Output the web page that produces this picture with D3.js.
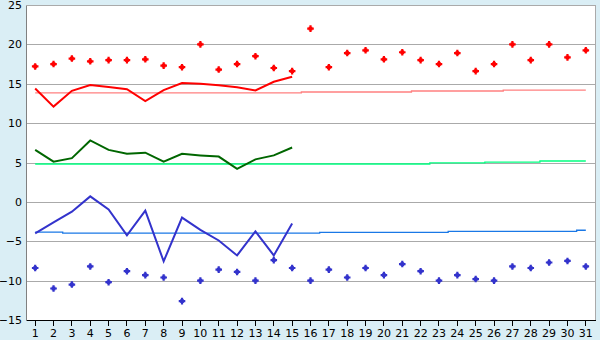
<!DOCTYPE html>
<html><head><meta charset="utf-8">
<script src="https://cdn.jsdelivr.net/npm/d3@7"></script>
<style>
html,body{margin:0;padding:0;background:#daeef5;}
svg{display:block;}
text{font-family:"DejaVu Sans",Verdana,sans-serif;font-size:11px;fill:#000;}
</style></head><body>
<svg id="c" width="600" height="340"></svg>
<script>
const days = d3.range(1, 32);
const yTicks = [-15, -10, -5, 0, 5, 10, 15, 20, 25];
const maxPoints = [17.2,17.5,18.2,17.85,18.0,18.0,18.1,17.3,17.1,20.0,16.8,17.5,18.5,17.0,16.6,22.0,17.1,18.9,19.25,18.1,19.0,18.0,17.5,18.9,16.6,17.5,20.0,18.0,20.0,18.35,19.25];
const minPoints = [-8.4,-11.0,-10.5,-8.2,-10.2,-8.8,-9.3,-9.6,-12.6,-10.0,-8.6,-8.9,-10.0,-7.4,-8.4,-10.0,-8.6,-9.6,-8.4,-9.3,-7.9,-8.8,-10.0,-9.3,-9.8,-10.0,-8.2,-8.4,-7.7,-7.5,-8.2];
const maxLine = [14.4,12.1,14.1,14.85,14.6,14.3,12.8,14.2,15.1,15.0,14.8,14.55,14.15,15.25,15.9];
const meanLine = [6.6,5.1,5.55,7.8,6.6,6.1,6.25,5.1,6.1,5.9,5.75,4.2,5.4,5.9,6.9];
const minLine = [-4.0,-2.6,-1.25,0.7,-0.95,-4.25,-1.1,-7.55,-2.0,-3.55,-4.9,-6.8,-3.75,-6.8,-2.75];
const normalMax = [13.83,13.83,13.83,13.83,13.83,13.83,13.83,13.83,13.83,13.83,13.83,13.83,13.83,13.83,13.83,13.95,13.95,13.95,13.95,13.95,13.95,14.08,14.08,14.08,14.08,14.08,14.2,14.2,14.2,14.2,14.2];
const normalMean = [4.81,4.81,4.81,4.81,4.81,4.81,4.81,4.81,4.81,4.81,4.81,4.81,4.81,4.81,4.81,4.81,4.81,4.81,4.81,4.81,4.81,4.81,4.94,4.94,4.94,5.06,5.06,5.06,5.19,5.19,5.19];
const normalMin = [-3.85,-3.85,-3.97,-3.97,-3.97,-3.97,-3.97,-3.97,-3.97,-3.97,-3.97,-3.97,-3.97,-3.97,-3.97,-3.97,-3.87,-3.87,-3.87,-3.87,-3.87,-3.87,-3.87,-3.74,-3.74,-3.74,-3.74,-3.74,-3.74,-3.74,-3.6];

const svg = d3.select('#c');
const L = 26, R = 595, T = 5, B = 320;
const x = d3.scaleBand().domain(days).range([L, R]);
const cx = d => x(d) + x.bandwidth() / 2;
const y = d3.scaleLinear().domain([-15, 25]).range([B, T]);

svg.append('rect').attr('x', L).attr('y', T).attr('width', R - L).attr('height', B - T).attr('fill', '#fff');

// gridlines
svg.append('g').attr('transform', `translate(${L},0)`)
  .call(d3.axisLeft(y).tickValues(yTicks.filter(v => v > -15)).tickSize(-(R - L)).tickFormat(''))
  .call(g => g.select('.domain').remove())
  .call(g => g.selectAll('line').attr('stroke', '#aaaaaa').attr('shape-rendering', 'crispEdges'));
svg.append('line').attr('x1', R).attr('x2', R).attr('y1', T).attr('y2', B)
  .attr('stroke', '#aaaaaa').attr('shape-rendering', 'crispEdges');

// y axis
svg.append('g').attr('transform', `translate(${L},0)`)
  .call(d3.axisLeft(y).tickValues(yTicks).tickSize(0).tickPadding(4).tickFormat(d3.format('d')))
  .call(g => g.select('.domain').attr('stroke', '#808080').attr('shape-rendering', 'crispEdges'))
  .call(g => g.selectAll('text').style('font-family', '"DejaVu Sans",Verdana,sans-serif').style('font-size', '11px'));

// x axis
svg.append('g').attr('transform', `translate(0,${B})`)
  .call(d3.axisBottom(x).tickSize(6).tickSizeOuter(0).tickPadding(3))
  .call(g => g.select('.domain').attr('stroke', '#000').attr('shape-rendering', 'crispEdges'))
  .call(g => g.selectAll('line').attr('shape-rendering', 'crispEdges'))
  .call(g => g.selectAll('text').style('font-family', '"DejaVu Sans",Verdana,sans-serif').style('font-size', '11px'));

const stepLine = d3.line().x((d, i) => cx(days[i])).y(d => y(d)).curve(d3.curveStep);
const plainLine = d3.line().x((d, i) => cx(days[i])).y(d => y(d));

svg.append('path').attr('d', stepLine(normalMax)).attr('fill', 'none').attr('stroke', '#ff8080').attr('stroke-width', 1.3);
svg.append('path').attr('d', stepLine(normalMean)).attr('fill', 'none').attr('stroke', '#00ff80').attr('stroke-width', 1.3);
svg.append('path').attr('d', stepLine(normalMin)).attr('fill', 'none').attr('stroke', '#1a78e6').attr('stroke-width', 1.3);

svg.append('path').attr('d', plainLine(maxLine)).attr('fill', 'none').attr('stroke', '#ff0000').attr('stroke-width', 2);
svg.append('path').attr('d', plainLine(meanLine)).attr('fill', 'none').attr('stroke', '#006600').attr('stroke-width', 2);
svg.append('path').attr('d', plainLine(minLine)).attr('fill', 'none').attr('stroke', '#3333cc').attr('stroke-width', 2);

const sym = d3.symbol().type(d3.symbolCross).size(24);
const sq = d3.symbol().type(d3.symbolSquare).size(14);
function markers(data, color) {
  const g = svg.append('g').selectAll('g').data(data).join('g')
    .attr('transform', (d, i) => `translate(${cx(days[i])},${y(d)})`);
  g.append('path').attr('d', sym).attr('fill', color);
  g.append('path').attr('d', sq).attr('fill', color);
}
markers(maxPoints, '#ff0000');
markers(minPoints, '#3333cc');
</script>
</body></html>
